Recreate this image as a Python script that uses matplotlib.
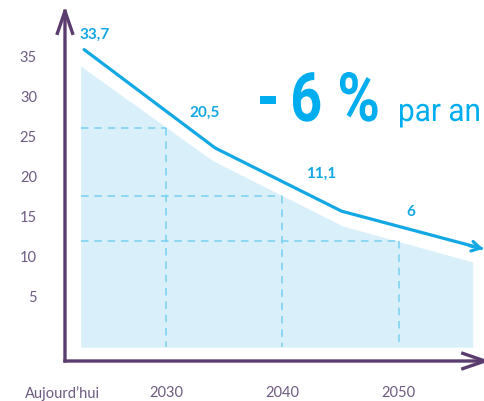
import numpy as np
import matplotlib.pyplot as plt
from matplotlib.textpath import TextPath
from matplotlib.patches import PathPatch
from matplotlib.font_manager import FontProperties
from matplotlib.transforms import Affine2D

# projected trend (schematic line) and the shaded band under it
line_years = [2022.9, 2034.2, 2045.1, 2057.3]
line_values = [35.8, 23.5, 15.6, 10.9]
band_years = [2022.6, 2034.0, 2045.2, 2056.4]
band_top = [33.75, 21.9, 13.75, 9.25]
band_floor = -1.4

mark_years = [2030, 2040, 2050]
tick_years = [2021, 2030, 2040, 2050]
tick_labels = ["Aujourd’hui", "2030", "2040", "2050"]
y_ticks = [5, 10, 15, 20, 25, 30, 35]

value_labels = ["33,7", "20,5", "11,1", "6"]
label_pos = [(2023.8, 37.75), (2033.3, 28.0), (2043.3, 20.4), (2051.1, 15.6)]

purple = "#5a3d6e"
tick_color = "#6d5a80"
blue = "#12a8e4"
headline = "#00adef"
band_color = "#d9f0fa"
dash_color = "#7fd2f2"

W, H = 484, 402
fig = plt.figure(figsize=(W / 100, H / 100), dpi=100)
ax = fig.add_axes([55 / W, 40 / H, 1 - 55 / W, (362 - 7) / H])
ax.set_xlim(2020.39, 2057.37)
ax.set_ylim(-3.125, 41.25)
for s in ax.spines.values():
    s.set_visible(False)

ax.fill_between(band_years, band_top, band_floor, color=band_color, lw=0)

# dashed guides from the band edge at each decade
levels = np.interp(mark_years, band_years, band_top)
for yr, lv in zip(mark_years, levels):
    ax.plot([band_years[0], yr], [lv, lv], color=dash_color, lw=1.2,
            linestyle=(0, (4.5, 3.5)))
    ax.plot([yr, yr], [lv, band_floor], color=dash_color, lw=1.2,
            linestyle=(0, (4.5, 3.5)))

ax.plot(line_years[:-1] + [line_years[-1] - 0.15], line_values[:-1] + [line_values[-1] + 0.05],
        color=blue, lw=2.3, solid_joinstyle="round", solid_capstyle="round")
ax.annotate("", xy=(line_years[-1], line_values[-1]),
            xytext=(line_years[-1] - 1.2, line_values[-1] + 0.4),
            arrowprops=dict(arrowstyle="->,head_length=0.6,head_width=0.35",
                            color=blue, lw=2.3, shrinkA=0, shrinkB=0),
            annotation_clip=False)

for txt, (x, y) in zip(value_labels, label_pos):
    ax.text(x, y, txt, color=blue, fontsize=11, fontweight="bold",
            family=["Lato", "DejaVu Sans"], ha="center", va="center")

# axes drawn as arrows
corner = (2021.25, -3.125)
axis_arrow = dict(arrowstyle="->,head_length=1.6,head_width=0.55",
                  color=purple, lw=2.4, shrinkA=0, shrinkB=0,
                  capstyle="projecting")
ax.annotate("", xy=(2021.25, 41.25), xytext=corner, arrowprops=axis_arrow,
            annotation_clip=False)
ax.annotate("", xy=(2057.9, -3.125), xytext=corner, arrowprops=axis_arrow,
            annotation_clip=False)

ax.set_yticks(y_ticks)
ax.set_yticklabels([str(v) for v in y_ticks])
ax.set_xticks(tick_years)
ax.set_xticklabels(tick_labels)
ax.tick_params(axis="y", length=0, pad=13, labelcolor=tick_color, labelsize=10.5)
ax.tick_params(axis="x", length=0, pad=17, labelcolor=tick_color, labelsize=10.5)
for lab in ax.get_xticklabels() + ax.get_yticklabels():
    lab.set_family(["Lato", "DejaVu Sans"])


def condensed(text, left, baseline, size, squeeze, weight):
    # narrow lettering: Roboto outline squeezed horizontally, placed in pixels
    tp = TextPath((0, 0), text, size=size,
                  prop=FontProperties(family="Roboto", weight=weight))
    x0 = tp.get_extents().x0
    tr = Affine2D().translate(-x0, 0).scale(squeeze, 1).translate(left, H - baseline)
    fig.add_artist(PathPatch(tp, transform=tr, facecolor=headline, lw=0))


condensed("-", 260, 122, 68, 0.85, "bold")
condensed("6", 293, 122, 68, 0.82, "bold")
condensed("%", 340, 122, 68, 0.85, "bold")
condensed("par an", 400, 122, 32, 0.93, "normal")

fig.savefig("out.png", dpi=100)
